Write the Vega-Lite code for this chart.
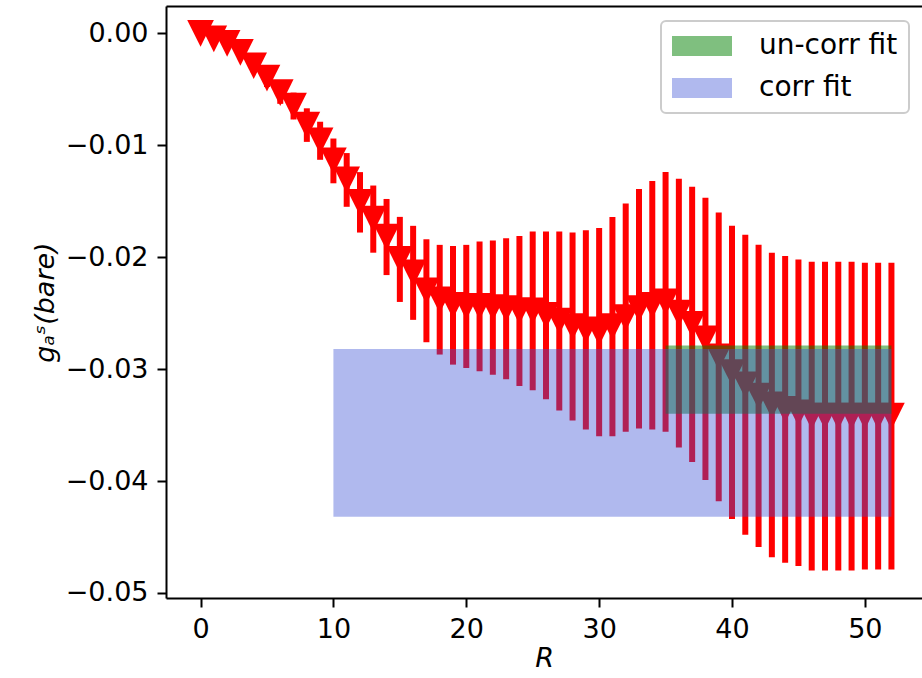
{
  "$schema": "https://vega.github.io/schema/vega-lite/v6.json",
  "width": 756,
  "height": 592,
  "autosize": {"type": "none"},
  "padding": {"left": 166, "top": 6, "right": 0, "bottom": 80},
  "config": {
    "view": {"stroke": null},
    "font": "DejaVu Sans",
    "axis": {
      "domainColor": "black", "domainWidth": 2,
      "tickColor": "black", "tickWidth": 2, "tickSize": 9,
      "labelFont": "DejaVu Sans", "labelFontSize": 27, "labelColor": "black", "labelPadding": 9,
      "labelOverlap": false,
      "titleFont": "DejaVu Sans", "titleFontSize": 27, "titleColor": "black", "titleFontWeight": "normal",
      "grid": false
    },
    "legend": {
      "symbolType": "M-3,-1L3,-1L3,1L-3,1Z",
      "symbolSize": 400,
      "symbolOffset": 16,
      "symbolStrokeWidth": 0,
      "labelOffset": 43,
      "labelFont": "DejaVu Sans",
      "labelFontSize": 28,
      "labelColor": "black",
      "rowPadding": 14,
      "padding": 11,
      "strokeColor": "#cccccc",
      "strokeWidth": 2,
      "fillColor": "rgba(255,255,255,0.8)",
      "cornerRadius": 5
    }
  },
  "datasets": {
    "pts": [
      {"R": 0, "y": 0.0, "lo": -0.00005, "hi": 0.00005},
      {"R": 1, "y": -0.0005, "lo": -0.0007, "hi": -0.0003},
      {"R": 2, "y": -0.0009, "lo": -0.0012, "hi": -0.0006},
      {"R": 3, "y": -0.0017, "lo": -0.0021, "hi": -0.0013},
      {"R": 4, "y": -0.0029, "lo": -0.0035, "hi": -0.0023},
      {"R": 5, "y": -0.0040, "lo": -0.0048, "hi": -0.0032},
      {"R": 6, "y": -0.0053, "lo": -0.0063, "hi": -0.0043},
      {"R": 7, "y": -0.0065, "lo": -0.0077, "hi": -0.0053},
      {"R": 8, "y": -0.0082, "lo": -0.0097, "hi": -0.0067},
      {"R": 9, "y": -0.0096, "lo": -0.0113, "hi": -0.0079},
      {"R": 10, "y": -0.0114, "lo": -0.0134, "hi": -0.0094},
      {"R": 11, "y": -0.0131, "lo": -0.0155, "hi": -0.0107},
      {"R": 12, "y": -0.0151, "lo": -0.0178, "hi": -0.0124},
      {"R": 13, "y": -0.0166, "lo": -0.0196, "hi": -0.0136},
      {"R": 14, "y": -0.0182, "lo": -0.0216, "hi": -0.0148},
      {"R": 15, "y": -0.0202, "lo": -0.0240, "hi": -0.0164},
      {"R": 16, "y": -0.0214, "lo": -0.0256, "hi": -0.0172},
      {"R": 17, "y": -0.0230, "lo": -0.0276, "hi": -0.0184},
      {"R": 18, "y": -0.0238, "lo": -0.0287, "hi": -0.0189},
      {"R": 19, "y": -0.0243, "lo": -0.0296, "hi": -0.0190},
      {"R": 20, "y": -0.0244, "lo": -0.0299, "hi": -0.0189},
      {"R": 21, "y": -0.0244, "lo": -0.0302, "hi": -0.0186},
      {"R": 22, "y": -0.0245, "lo": -0.0305, "hi": -0.0185},
      {"R": 23, "y": -0.0246, "lo": -0.0309, "hi": -0.0183},
      {"R": 24, "y": -0.0248, "lo": -0.0315, "hi": -0.0181},
      {"R": 25, "y": -0.0248, "lo": -0.0319, "hi": -0.0177},
      {"R": 26, "y": -0.0252, "lo": -0.0327, "hi": -0.0177},
      {"R": 27, "y": -0.0257, "lo": -0.0337, "hi": -0.0177},
      {"R": 28, "y": -0.0262, "lo": -0.0346, "hi": -0.0178},
      {"R": 29, "y": -0.0265, "lo": -0.0354, "hi": -0.0176},
      {"R": 30, "y": -0.0267, "lo": -0.0360, "hi": -0.0174},
      {"R": 31, "y": -0.0262, "lo": -0.0360, "hi": -0.0164},
      {"R": 32, "y": -0.0254, "lo": -0.0356, "hi": -0.0152},
      {"R": 33, "y": -0.0246, "lo": -0.0353, "hi": -0.0139},
      {"R": 34, "y": -0.0243, "lo": -0.0354, "hi": -0.0132},
      {"R": 35, "y": -0.0240, "lo": -0.0356, "hi": -0.0124},
      {"R": 36, "y": -0.0250, "lo": -0.0370, "hi": -0.0130},
      {"R": 37, "y": -0.0260, "lo": -0.0383, "hi": -0.0137},
      {"R": 38, "y": -0.0273, "lo": -0.0399, "hi": -0.0147},
      {"R": 39, "y": -0.0289, "lo": -0.0418, "hi": -0.0160},
      {"R": 40, "y": -0.0303, "lo": -0.0434, "hi": -0.0172},
      {"R": 41, "y": -0.0314, "lo": -0.0448, "hi": -0.0180},
      {"R": 42, "y": -0.0324, "lo": -0.0459, "hi": -0.0189},
      {"R": 43, "y": -0.0332, "lo": -0.0468, "hi": -0.0196},
      {"R": 44, "y": -0.0336, "lo": -0.0473, "hi": -0.0199},
      {"R": 45, "y": -0.0339, "lo": -0.0476, "hi": -0.0202},
      {"R": 46, "y": -0.0342, "lo": -0.0480, "hi": -0.0204},
      {"R": 47, "y": -0.0342, "lo": -0.0480, "hi": -0.0204},
      {"R": 48, "y": -0.0342, "lo": -0.0480, "hi": -0.0204},
      {"R": 49, "y": -0.0342, "lo": -0.0480, "hi": -0.0204},
      {"R": 50, "y": -0.0342, "lo": -0.0479, "hi": -0.0205},
      {"R": 51, "y": -0.0342, "lo": -0.0479, "hi": -0.0205},
      {"R": 52, "y": -0.0342, "lo": -0.0479, "hi": -0.0205}
    ],
    "fits": [
      {"name": "un-corr fit", "x0": 35, "x1": 52, "lo": -0.0340, "hi": -0.02789},
      {"name": "corr fit", "x0": 10, "x1": 52, "lo": -0.0432, "hi": -0.0282}
    ]
  },
  "resolve": {"axis": {"x": "independent"}},
  "layer": [
    {
      "data": {"name": "pts"},
      "mark": {"type": "rule", "color": "red", "strokeWidth": 6},
      "encoding": {
        "x": {
          "field": "R", "type": "quantitative",
          "scale": {"domain": [-2.6, 54.3], "nice": false, "zero": false},
          "axis": {"orient": "bottom", "values": [0, 10, 20, 30, 40, 50], "title": "R", "titleFontStyle": "italic", "titlePadding": 3}
        },
        "y": {
          "field": "lo", "type": "quantitative",
          "scale": {"domain": [-0.05045, 0.00244], "nice": false, "zero": false},
          "axis": {"values": [0, -0.01, -0.02, -0.03, -0.04, -0.05], "format": ".2f", "title": "gₐˢ(bare)", "titleFontStyle": "italic", "titlePadding": 6}
        },
        "y2": {"field": "hi"}
      }
    },
    {
      "data": {"name": "pts"},
      "mark": {"type": "point", "shape": "M-1,-1L1,-1L0,1Z", "size": 710, "filled": true, "color": "red", "opacity": 1},
      "encoding": {
        "x": {"field": "R", "type": "quantitative", "axis": null},
        "y": {"field": "y", "type": "quantitative"}
      }
    },
    {
      "data": {"name": "fits"},
      "mark": {"type": "rect"},
      "encoding": {
        "x": {"field": "x0", "type": "quantitative",
          "axis": {"orient": "top", "labels": false, "ticks": false, "title": null, "domain": true}},
        "x2": {"field": "x1"},
        "y": {"field": "lo", "type": "quantitative"},
        "y2": {"field": "hi"},
        "color": {
          "field": "name", "type": "nominal",
          "scale": {"domain": ["un-corr fit", "corr fit"], "range": ["#008000", "#3a50d4"]},
          "legend": {"title": null, "orient": "none", "legendX": 495, "legendY": 15}
        },
        "opacity": {
          "field": "name", "type": "nominal",
          "scale": {"domain": ["un-corr fit", "corr fit"], "range": [0.5, 0.4]},
          "legend": {"title": null, "orient": "none", "legendX": 495, "legendY": 15}
        }
      }
    }
  ]
}
